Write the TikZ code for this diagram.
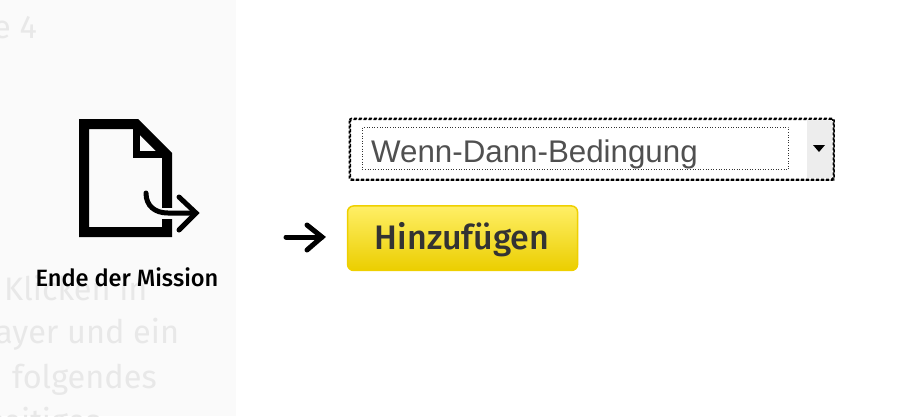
\documentclass[tikz,border=0pt]{standalone}
\usepackage{fontspec}
\setmainfont{Fira Sans}
\newfontfamily\medfont{Fira Sans Medium}
\newfontfamily\dropfont{Liberation Sans}
\usetikzlibrary{positioning,arrows.meta,shapes}
\definecolor{panelgray}{HTML}{FAFAFA}
\definecolor{fadegray}{HTML}{E8E8E8}
\definecolor{droptext}{HTML}{505050}
\definecolor{btntext}{HTML}{333333}
\definecolor{btnedge}{HTML}{EFD000}
\definecolor{btntop}{HTML}{FFEF66}
\definecolor{btnbottom}{HTML}{EBCE00}
\tikzset{
  fadetext/.style={anchor=base west, inner sep=0pt, text=fadegray, font=\fontsize{32.5}{36}\selectfont},
  iconline/.style={draw=black, line width=10pt, miter limit=10},
  bigarrow/.style={draw=black, line width=5pt, line cap=round, line join=miter}
}
\begin{document}
\begin{tikzpicture}[x=1pt, y=-1pt]
  \useasboundingbox (0,0) rectangle (920,416);
  \clip (0,0) rectangle (920,416);

  % Left panel
  \fill[panelgray] (0,0) rectangle (236,416);
  \foreach \i/\xpos/\ypos/\txt in {1/-7/38/{e 4}, 2/4/300/{Klicken in}, 3/-5/343/{ayer und ein}, 4/12/388/{folgendes}, 5/-12/432/{seitiges}}
    \node[fadetext] (fade-\i) at (\xpos, \ypos) {\txt};

  % File icon
  \draw[iconline] (84,124) -- (136,124) -- (167,155) -- (167,232) -- (84,232) -- cycle;
  \draw[draw=black, line width=7pt] (136.5,124) -- (136.5,154.5) -- (167,154.5);
  \coordinate (curl-start) at (146,193);
  \coordinate (curl-end) at (196,213);
  \coordinate (curl-top) at (179,197);
  \coordinate (curl-bottom) at (179,230);
  \draw[panelgray, line width=11pt] (160,213) -- (174,213);
  \draw[bigarrow] (curl-start) .. controls (146,206) and (155,213) .. (168,213) -- (curl-end);
  \draw[bigarrow] (curl-top) -- (curl-end) -- (curl-bottom);
  \node[font=\medfont\fontsize{23.6}{26}\selectfont, text=black, inner sep=0pt, anchor=base] (mission) at (127,286) {Ende der Mission};

  % Drop-down list
  \fill[black!30] (350,120) rectangle (834.5,180.5);
  \node[draw=black, densely dashed, line width=1.6pt, fill=white, rounded corners=2pt, inner sep=0pt, minimum width=483pt, minimum height=60pt, anchor=north west] (dropbox) at (349.5,118.5) {};
  \fill[black!7] (807,120) rectangle (832,178);
  \draw[densely dashed, line width=1.6pt, rounded corners=2pt] (dropbox.north west) rectangle (dropbox.south east);
  \node[draw=black!80, dotted, line width=0.6pt, inner sep=0pt, minimum width=426pt, minimum height=42pt, anchor=north west] (dropinner) at (362,127) {};
  \node[font=\dropfont\fontsize{31.3}{36}\selectfont, text=droptext, inner sep=0pt, anchor=base west] (droplabel) at (371,162) {Wenn-Dann-Bedingung};
  \fill[black] (813,145) -- (825,145) -- (819,152) -- cycle;

  % Add button
  \node[draw=btnedge, line width=1.5pt, rounded corners=6pt, top color=btntop, bottom color=btnbottom, minimum width=230pt, minimum height=64.5pt, inner sep=0pt, anchor=north west] (addbutton) at (346.8,205.2) {};
  \node[font=\medfont\fontsize{34}{38}\selectfont, text=btntext, inner sep=0pt, anchor=base] (addlabel) at (462,249) {Hinzufügen};

  % Arrow
  \coordinate (arrow-start) at (286,237);
  \coordinate (arrow-tip) at (322,237);
  \coordinate (arrow-top) at (307,225);
  \coordinate (arrow-bottom) at (307,250);
  \draw[bigarrow] (arrow-start) -- (arrow-tip);
  \draw[bigarrow] (arrow-top) -- (arrow-tip) -- (arrow-bottom);
\end{tikzpicture}
\end{document}
